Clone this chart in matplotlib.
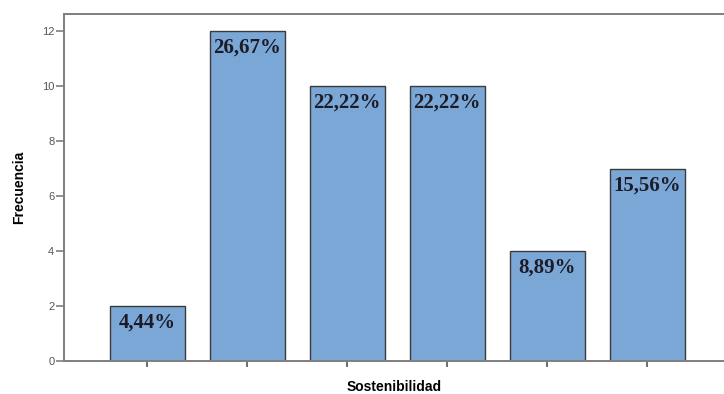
import matplotlib
matplotlib.use('Agg')
import matplotlib.pyplot as plt
import numpy as np

# datos
categorias = ['1', '2', '3', '4', '5', '6']
frecuencia = [2, 12, 10, 10, 4, 7]
porcentajes = ['4,44%', '26,67%', '22,22%', '22,22%', '8,89%', '15,56%']

fig = plt.figure(figsize=(7.24, 3.94), dpi=100)
ax = fig.add_axes([64/724, 1 - 361/394, 1 - 64/724, (361 - 14)/394])

x = np.arange(len(categorias))
bars = ax.bar(x, frecuencia, width=0.75, color='#7BA7D6', edgecolor='#3a3a3a', linewidth=1.0, zorder=2)

for b, p in zip(bars, porcentajes):
    ax.annotate(p, (b.get_x() + b.get_width()/2, b.get_height()),
                xytext=(0, -12), textcoords='offset points',
                ha='center', va='center', fontsize=15, fontweight='bold',
                family='Liberation Serif', color='#1c1c28')

ax.set_xlim(-0.835, 5.77)
ax.set_ylim(0, 12.62)
ax.set_yticks([0, 2, 4, 6, 8, 10, 12])
ax.set_xticks(x)
ax.set_xticklabels([])

for s in ['left', 'top', 'bottom']:
    ax.spines[s].set_color('#7f7f7f')
    ax.spines[s].set_linewidth(1.4)
ax.spines['right'].set_visible(False)

ax.tick_params(axis='y', length=6, width=1.2, color='#7f7f7f', labelsize=8, labelcolor='#555555', pad=1)
ax.tick_params(axis='x', length=4, width=1.2, color='#555555')
for t in ax.get_yticklabels():
    t.set_family('Liberation Sans')

ax.set_ylabel('Frecuencia', fontsize=10, fontweight='bold', family='Liberation Sans', labelpad=11)
ax.set_xlabel('Sostenibilidad', fontsize=10, fontweight='bold', family='Liberation Sans', labelpad=6)

fig.savefig('out.png', dpi=100)
